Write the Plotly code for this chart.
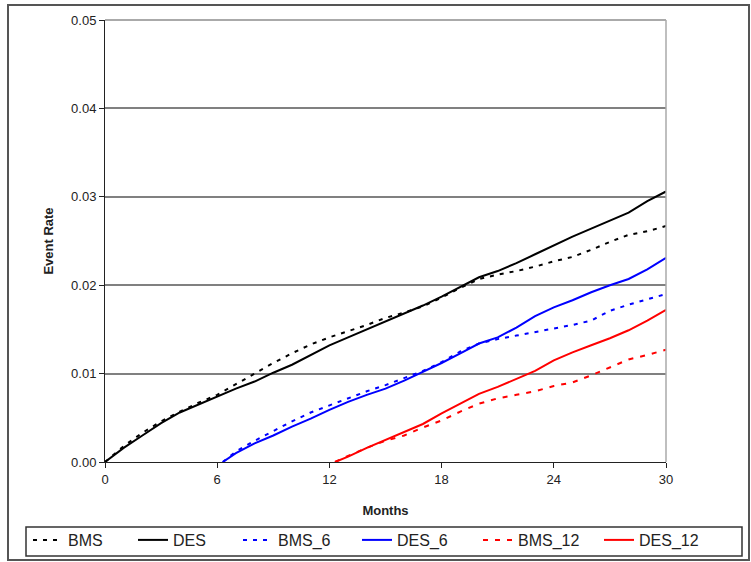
import plotly.graph_objects as go

months_full = list(range(0, 31))
des = [0, 0.0016, 0.0030, 0.0044, 0.0056, 0.0065, 0.0074, 0.0083, 0.0091, 0.0101,
       0.0110, 0.0121, 0.0132, 0.0141, 0.0150, 0.0159, 0.0168, 0.0177, 0.0187, 0.0198,
       0.0209, 0.0216, 0.0225, 0.0235, 0.0245, 0.0255, 0.0264, 0.0273, 0.0282, 0.0295, 0.0306]
bms = [0, 0.0018, 0.0033, 0.0046, 0.0057, 0.0067, 0.0076, 0.0088, 0.0100, 0.0112,
       0.0123, 0.0133, 0.0141, 0.0148, 0.0155, 0.0163, 0.0169, 0.0176, 0.0186, 0.0197,
       0.0207, 0.0212, 0.0216, 0.0221, 0.0227, 0.0232, 0.0240, 0.0249, 0.0257, 0.0261, 0.0267]

months_6 = [6.3] + list(range(7, 31))
des_6 = [0, 0.0010, 0.0021, 0.0030, 0.0040, 0.0049, 0.0059, 0.0068, 0.0076, 0.0083,
         0.0092, 0.0102, 0.0112, 0.0123, 0.0134, 0.0141, 0.0152, 0.0165, 0.0175, 0.0183,
         0.0192, 0.0200, 0.0207, 0.0218, 0.0231]
bms_6 = [0, 0.0012, 0.0024, 0.0035, 0.0046, 0.0056, 0.0064, 0.0072, 0.0080, 0.0087,
         0.0095, 0.0103, 0.0113, 0.0125, 0.0134, 0.0139, 0.0143, 0.0147, 0.0151, 0.0155,
         0.0160, 0.0171, 0.0178, 0.0184, 0.0190]

months_12 = [12.3] + list(range(13, 31))
des_12 = [0, 0.0006, 0.0016, 0.0025, 0.0034, 0.0043, 0.0055, 0.0066, 0.0077, 0.0085,
          0.0094, 0.0103, 0.0115, 0.0124, 0.0132, 0.0140, 0.0149, 0.0160, 0.0172]
bms_12 = [0, 0.0007, 0.0016, 0.0024, 0.0030, 0.0039, 0.0047, 0.0057, 0.0066, 0.0072,
          0.0076, 0.0080, 0.0086, 0.0090, 0.0098, 0.0107, 0.0116, 0.0121, 0.0127]

x_ticks = [0, 6, 12, 18, 24, 30]
y_ticks = [0.00, 0.01, 0.02, 0.03, 0.04, 0.05]

series = [
    ("BMS", months_full, bms, "black", "4px,6px", "legend"),
    ("DES", months_full, des, "black", "solid", "legend"),
    ("BMS_6", months_6, bms_6, "#0000FF", "4px,6px", "legend"),
    ("DES_6", months_6, des_6, "#0000FF", "solid", "legend2"),
    ("BMS_12", months_12, bms_12, "#FF0000", "5px,7px", "legend2"),
    ("DES_12", months_12, des_12, "#FF0000", "solid", "legend2"),
]

fig = go.Figure()
for name, xs, ys, color, dash, lg in series:
    fig.add_trace(go.Scatter(x=xs, y=ys, name=name, mode="lines", legend=lg,
                             line=dict(color=color, width=2, dash=dash)))

W, H = 751, 562
PL, PR, PT, PB = 105, 85, 4, 100
PW, PH = W - PL - PR, H - PT - PB       # paper area
AX_TOP = 20                             # pixel y of top of axis
BOT = H - PB                            # pixel y of axis bottom (462)


def py(pix):
    """pixel y -> paper fraction"""
    return (BOT - pix) / PH


LEG_TOP, LEG_BOT = 527, 556

font_family = "Liberation Sans, Arial, sans-serif"
leg_common = dict(orientation="h", yanchor="bottom", y=py(557), xanchor="left",
                  borderwidth=0, bgcolor="rgba(0,0,0,0)",
                  font=dict(size=16, color="#222"), entrywidthmode="pixels",
                  tracegroupgap=0)

fig.update_layout(
    width=W, height=H,
    margin=dict(l=PL, r=PR, t=PT, b=PB),
    paper_bgcolor="white", plot_bgcolor="white",
    font=dict(family=font_family, size=13, color="#222"),
    showlegend=True,
    legend=dict(x=(28 - PL) / PW, entrywidth=60, **leg_common),
    legend2=dict(x=(357 - PL) / PW, entrywidth=76, **leg_common),
    xaxis=dict(range=[0, 30], tickvals=x_ticks, ticktext=[str(v) for v in x_ticks],
               automargin=False,
               showline=True, linecolor="#222", linewidth=1, ticks="outside",
               ticklen=5, tickcolor="#222", showgrid=False, zeroline=False,
               title=dict(text="<b>Months</b>", font=dict(size=13), standoff=20)),
    yaxis=dict(range=[0, 0.05], tickvals=y_ticks, tickformat=".2f",
               domain=[0, py(AX_TOP)], automargin=False,
               showline=True, linecolor="#222", linewidth=1, ticks="outside",
               ticklen=5, tickcolor="#222", showgrid=True, gridcolor="#808080",
               gridwidth=1.5, zeroline=False,
               title=dict(text="<b>Event Rate</b>", font=dict(size=13), standoff=14)),
    shapes=[
        dict(type="line", xref="x domain", yref="y domain", x0=0, x1=1, y0=1, y1=1,
             line=dict(color="#aaaaaa", width=2)),
        dict(type="line", xref="x domain", yref="y domain", x0=1, x1=1, y0=0, y1=1,
             line=dict(color="#aaaaaa", width=1.5)),
        dict(type="rect", xref="paper", yref="paper",
             x0=(8 - PL) / PW, x1=(749 - PL) / PW,
             y0=py(560), y1=py(5),
             line=dict(color="#555", width=2), fillcolor="rgba(0,0,0,0)", layer="below"),
        dict(type="rect", xref="paper", yref="paper",
             x0=(26 - PL) / PW, x1=(742 - PL) / PW,
             y0=py(LEG_BOT), y1=py(LEG_TOP),
             line=dict(color="#333", width=1.5), fillcolor="rgba(0,0,0,0)"),
    ],
)

fig.write_html("out.html")
